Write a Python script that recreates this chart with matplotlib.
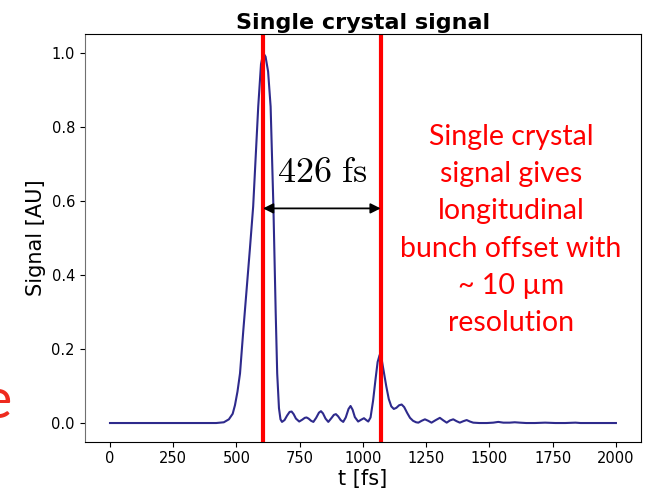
import matplotlib
matplotlib.use("Agg")
import matplotlib.pyplot as plt

# signal trace (t in fs, signal in AU)
t_fs = [0, 300, 420, 450, 470, 485, 494, 504, 514, 527, 540, 553, 566, 576, 586,
        597, 606, 615, 625, 635, 646, 655, 661, 668, 674, 680, 690, 700, 710, 718,
        726, 735, 748, 760, 770, 777, 785, 795, 804, 815, 826, 834, 842, 852, 863,
        875, 885, 893, 902, 912, 922, 932, 943, 951, 959, 968, 981, 993, 1004, 1013,
        1021, 1030, 1040, 1050, 1058, 1066, 1074, 1082, 1092, 1102, 1112, 1122, 1132,
        1143, 1153, 1163, 1175, 1186, 1198, 1210, 1219, 1232, 1245, 1258, 1271, 1288,
        1304, 1318, 1331, 1344, 1357, 1370, 1383, 1397, 1410, 1423, 1436, 1460, 1490,
        1515, 1535, 1555, 1580, 1600, 1620, 1645, 1680, 1720, 1760, 1800, 1840, 1860,
        1880, 1920, 2000]
signal = [0.0, 0.0, 0.0, 0.002, 0.01, 0.025, 0.048, 0.085, 0.134, 0.25, 0.36, 0.47,
          0.585, 0.72, 0.855, 0.97, 1.0, 0.99, 0.95, 0.855, 0.585, 0.3, 0.134, 0.04,
          0.01, 0.003, 0.008, 0.02, 0.03, 0.031, 0.024, 0.012, 0.004, 0.009, 0.014,
          0.015, 0.012, 0.006, 0.003, 0.014, 0.028, 0.032, 0.026, 0.012, 0.003, 0.013,
          0.022, 0.024, 0.018, 0.008, 0.003, 0.015, 0.038, 0.046, 0.036, 0.016, 0.004,
          0.009, 0.013, 0.008, 0.004, 0.015, 0.06, 0.12, 0.165, 0.184, 0.172, 0.14,
          0.1, 0.065, 0.045, 0.038, 0.041, 0.048, 0.05, 0.043, 0.027, 0.014, 0.006,
          0.002, 0.001, 0.006, 0.01, 0.006, 0.001, 0.008, 0.014, 0.007, 0.001, 0.007,
          0.01, 0.005, 0.001, 0.005, 0.008, 0.004, 0.001, 0.0, 0.0, 0.001, 0.003,
          0.001, 0.001, 0.002, 0.001, 0.0, 0.0, 0.001, 0.0, 0.0, 0.001, 0.0, 0.0,
          0.0, 0.0]

peak_times = [605, 1070]
arrow_y = 0.58
delay_label = r"$426\ \mathrm{fs}$"
note = ("Single crystal\nsignal gives\nlongitudinal\nbunch offset with\n"
        "~ 10 \u00b5m\nresolution")

plt.rcParams["mathtext.fontset"] = "cm"

fig = plt.figure(figsize=(6.49, 4.92), dpi=100)
ax = fig.add_axes([0.1305, 0.1026, 0.8575, 0.8273])

ax.plot(t_fs, signal, color="#2e2a8c", linewidth=1.5)
for tp in peak_times:
    ax.axvline(tp, color="red", linewidth=3)

ax.annotate("", xy=(peak_times[0], arrow_y), xytext=(peak_times[1], arrow_y),
            arrowprops=dict(arrowstyle="<|-|>", color="black", lw=1.3,
                            mutation_scale=15, shrinkA=0, shrinkB=0))
ax.text(840, 0.651, delay_label, fontsize=26, ha="center", va="baseline")

ax.text(1585, 0.522, note, color="red", fontsize=20.5, family="Lato",
        ha="center", va="center", multialignment="center", linespacing=1.54)

ax.set_title("Single crystal signal", fontsize=16, fontweight="bold", pad=4)
ax.set_xlabel("t [fs]", fontsize=15, labelpad=2)
ax.set_ylabel("Signal [AU]", fontsize=15)
ax.tick_params(labelsize=10.5)
ax.spines["left"].set_color("#707070")

# cut-off letter from the neighbouring slide text
fig.text(12 / 649, 1 - 418 / 492, "e", color="#ee2a1e", fontsize=40,
         family="Lato", ha="right", va="baseline")

fig.savefig("out.png", dpi=100)
